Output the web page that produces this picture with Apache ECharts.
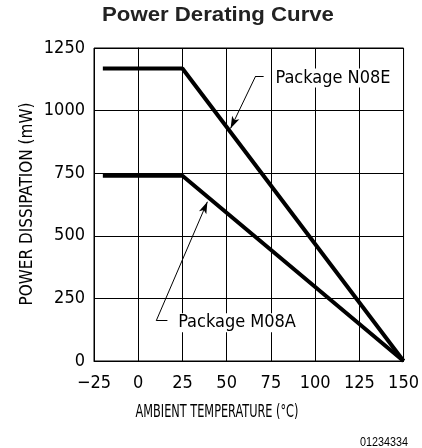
<!DOCTYPE html>
<html><head><meta charset="utf-8">
<script src="https://cdn.jsdelivr.net/npm/echarts@6/dist/echarts.min.js"></script>
<style>html,body{margin:0;padding:0;background:#fff}#c{width:422px;height:448px}</style>
</head><body><div id="c"></div>
<script>
const temps = [-20, 25, 150];
const n08e = [1168, 1168, 0];
const m08a = [740, 740, 0];
const xTicks = [-25, 0, 25, 50, 75, 100, 125, 150];
const yTicks = [0, 250, 500, 750, 1000, 1250];
const labelN08E = 'Package N08E';
const labelM08A = 'Package M08A';
// annotation anchors in data units
const n08eArrow = {text: [77, 1130], bendStart: [70.9, 1138], bend: [66.4, 1138], tip: [52.2, 929]};
const m08aArrow = {text: [22, 153], bendStart: [16.5, 161], bend: [10.2, 161], tip: [39.1, 636]};

const F = '"Liberation Sans Narrow", "DejaVu Sans Condensed", sans-serif';
const chart = echarts.init(document.getElementById('c'), null, {renderer: 'canvas'});

function arrow(a) {
  return {
    silent: true, animation: false,
    lineStyle: {color: '#000', width: 1, type: 'solid'},
    label: {show: false},
    data: [
      [{coord: a.bendStart, symbol: 'none'}, {coord: a.bend, symbol: 'none'}],
      [{coord: a.bend, symbol: 'none'}, {coord: a.tip, symbol: 'arrow', symbolSize: [6, 12]}]
    ]
  };
}

const baseGraphic = [
  {id: 'title', type: 'text', x: 218, y: 15, scaleX: 1.11, z: 100,
   style: {text: 'Power Derating Curve', fill: '#222', font: 'bold 20px "Liberation Sans", Arial, sans-serif', align: 'center', verticalAlign: 'middle'}},
  {id: 'xname', type: 'text', x: 217, y: 413, scaleX: 0.74, z: 100,
   style: {text: 'AMBIENT TEMPERATURE (°C)', fill: '#000', font: '17px ' + F, align: 'center', verticalAlign: 'middle'}},
  {id: 'yname', type: 'text', x: 28, y: 204, rotation: Math.PI / 2, z: 100,
   style: {text: 'POWER DISSIPATION (mW)', fill: '#000', font: '17px ' + F, align: 'center', verticalAlign: 'middle'}},
  {id: 'code', type: 'text', x: 408, y: 443, scaleX: 0.9, z: 100,
   style: {text: '01234334', fill: '#000', font: '12px "Liberation Sans", Arial, sans-serif', align: 'right', verticalAlign: 'middle'}}
];

chart.setOption({
  animation: false,
  graphic: baseGraphic,
  grid: {left: 94, right: 16, top: 48, bottom: 87, show: true, borderColor: '#000', borderWidth: 1},
  xAxis: {
    type: 'value', min: xTicks[0], max: xTicks[xTicks.length - 1], interval: 25,
    axisLine: {lineStyle: {color: '#000', width: 1}},
    axisTick: {show: false},
    splitLine: {show: true, lineStyle: {color: '#000', width: 1}},
    axisLabel: {color: '#000', fontFamily: F, fontSize: 18, margin: 13,
      formatter: v => (v < 0 ? '\u2212' + Math.abs(v) : String(v))}
  },
  yAxis: {
    type: 'value', min: yTicks[0], max: yTicks[yTicks.length - 1], interval: 250,
    axisLine: {show: true, lineStyle: {color: '#000', width: 1}},
    axisTick: {show: false},
    splitLine: {show: true, lineStyle: {color: '#000', width: 1}},
    axisLabel: {color: '#000', fontFamily: F, fontSize: 18, margin: 9, formatter: v => String(v)}
  },
  series: [
    {type: 'line', name: 'N08E', data: temps.map((t, i) => [t, n08e[i]]),
     symbol: 'none', lineStyle: {color: '#000', width: 4}, z: 5, markLine: arrow(n08eArrow)},
    {type: 'line', name: 'M08A', data: temps.map((t, i) => [t, m08a[i]]),
     symbol: 'none', lineStyle: {color: '#000', width: 4}, z: 5, markLine: arrow(m08aArrow)}
  ]
});

// annotation texts anchored to data points via the chart's own scales
const annots = [[n08eArrow.text, labelN08E], [m08aArrow.text, labelM08A]];
const extra = annots.map(([coord, txt], i) => {
  const p = chart.convertToPixel({gridIndex: 0}, coord);
  return {
    id: 'annot' + i, type: 'text', x: p[0], y: p[1], z: 100,
    style: {text: txt, fill: '#000', font: '18px ' + F, align: 'left', verticalAlign: 'middle',
      backgroundColor: '#ffffff', padding: [1, 1, 0, 1]}
  };
});
chart.setOption({graphic: baseGraphic.concat(extra)});
</script></body></html>
